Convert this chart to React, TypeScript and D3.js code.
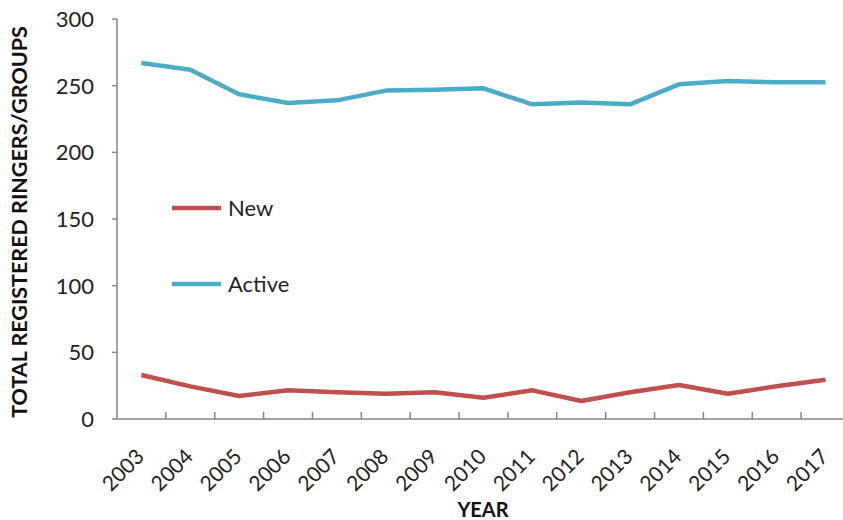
import React from "react";
import * as d3 from "d3";

const years = ["2003","2004","2005","2006","2007","2008","2009","2010","2011","2012","2013","2014","2015","2016","2017"];
const activeValues = [267, 262, 243.5, 237, 239, 246.3, 247, 248, 236, 237.3, 236, 251, 253.5, 252.5, 252.5];
const newValues = [33, 24.5, 17.3, 21.5, 20, 19, 20, 16, 21.5, 13.5, 20, 25.5, 19, 24.5, 29.5];
const yTicks = [0, 50, 100, 150, 200, 250, 300];

const W = 843, H = 520;
const left = 117, right = 850, top = 19, bottom = 419;
const font = "Lato, 'Open Sans', sans-serif";
const axisColor = "#868686";

export default function App() {
  const x = d3.scaleBand<string>().domain(years).range([left, right]).padding(0);
  const y = d3.scaleLinear().domain([0, 300]).range([bottom, top]);
  const cx = (d: string) => (x(d) as number) + x.bandwidth() / 2;
  const line = d3.line<number>().x((_, i) => cx(years[i])).y((v) => y(v));

  return (
    <svg width={W} height={H} style={{ position: "absolute", left: 0, top: 0, background: "#fff" }}>
      {/* y axis */}
      <line x1={left} x2={left} y1={top} y2={bottom} stroke={axisColor} strokeWidth={1.5} />
      {yTicks.map((t) => (
        <g key={t}>
          <line x1={left - 5} x2={left} y1={y(t)} y2={y(t)} stroke={axisColor} strokeWidth={1.5} />
          <text x={left - 23} y={y(t)} dy="0.36em" textAnchor="end" fontFamily={font} fontSize={22} fill="#222">{t}</text>
        </g>
      ))}
      {/* x axis */}
      <line x1={left} x2={right} y1={bottom} y2={bottom} stroke={axisColor} strokeWidth={1.5} />
      {years.slice(1).map((yr) => (
        <line key={yr} x1={x(yr)} x2={x(yr)} y1={bottom} y2={bottom - 7} stroke={axisColor} strokeWidth={1.5} />
      ))}
      {years.map((yr) => (
        <text key={yr} transform={`translate(${cx(yr) + 4},${bottom + 39}) rotate(-45)`} textAnchor="end"
          fontFamily={font} fontSize={21} fill="#222">{yr}</text>
      ))}
      {/* lines */}
      <path d={line(activeValues) || ""} fill="none" stroke="#4BACC6" strokeWidth={4.5} strokeLinejoin="round" />
      <path d={line(newValues) || ""} fill="none" stroke="#C0504D" strokeWidth={4.5} strokeLinejoin="round" />
      {/* legend */}
      <line x1={172} x2={221} y1={208} y2={208} stroke="#C0504D" strokeWidth={4.5} />
      <text x={228} y={208} dy="0.36em" fontFamily={font} fontSize={22} fill="#222">New</text>
      <line x1={172} x2={221} y1={284} y2={284} stroke="#4BACC6" strokeWidth={4.5} />
      <text x={228} y={284} dy="0.36em" fontFamily={font} fontSize={22} fill="#222">Active</text>
      {/* titles */}
      <text transform={`translate(27,222) rotate(-90)`} textAnchor="middle" fontFamily={font}
        fontWeight="bold" fontSize={21.5} fill="#111">TOTAL REGISTERED RINGERS/GROUPS</text>
      <text x={483} y={517} textAnchor="middle" fontFamily={font} fontWeight="bold" fontSize={20} fill="#111">YEAR</text>
    </svg>
  );
}
